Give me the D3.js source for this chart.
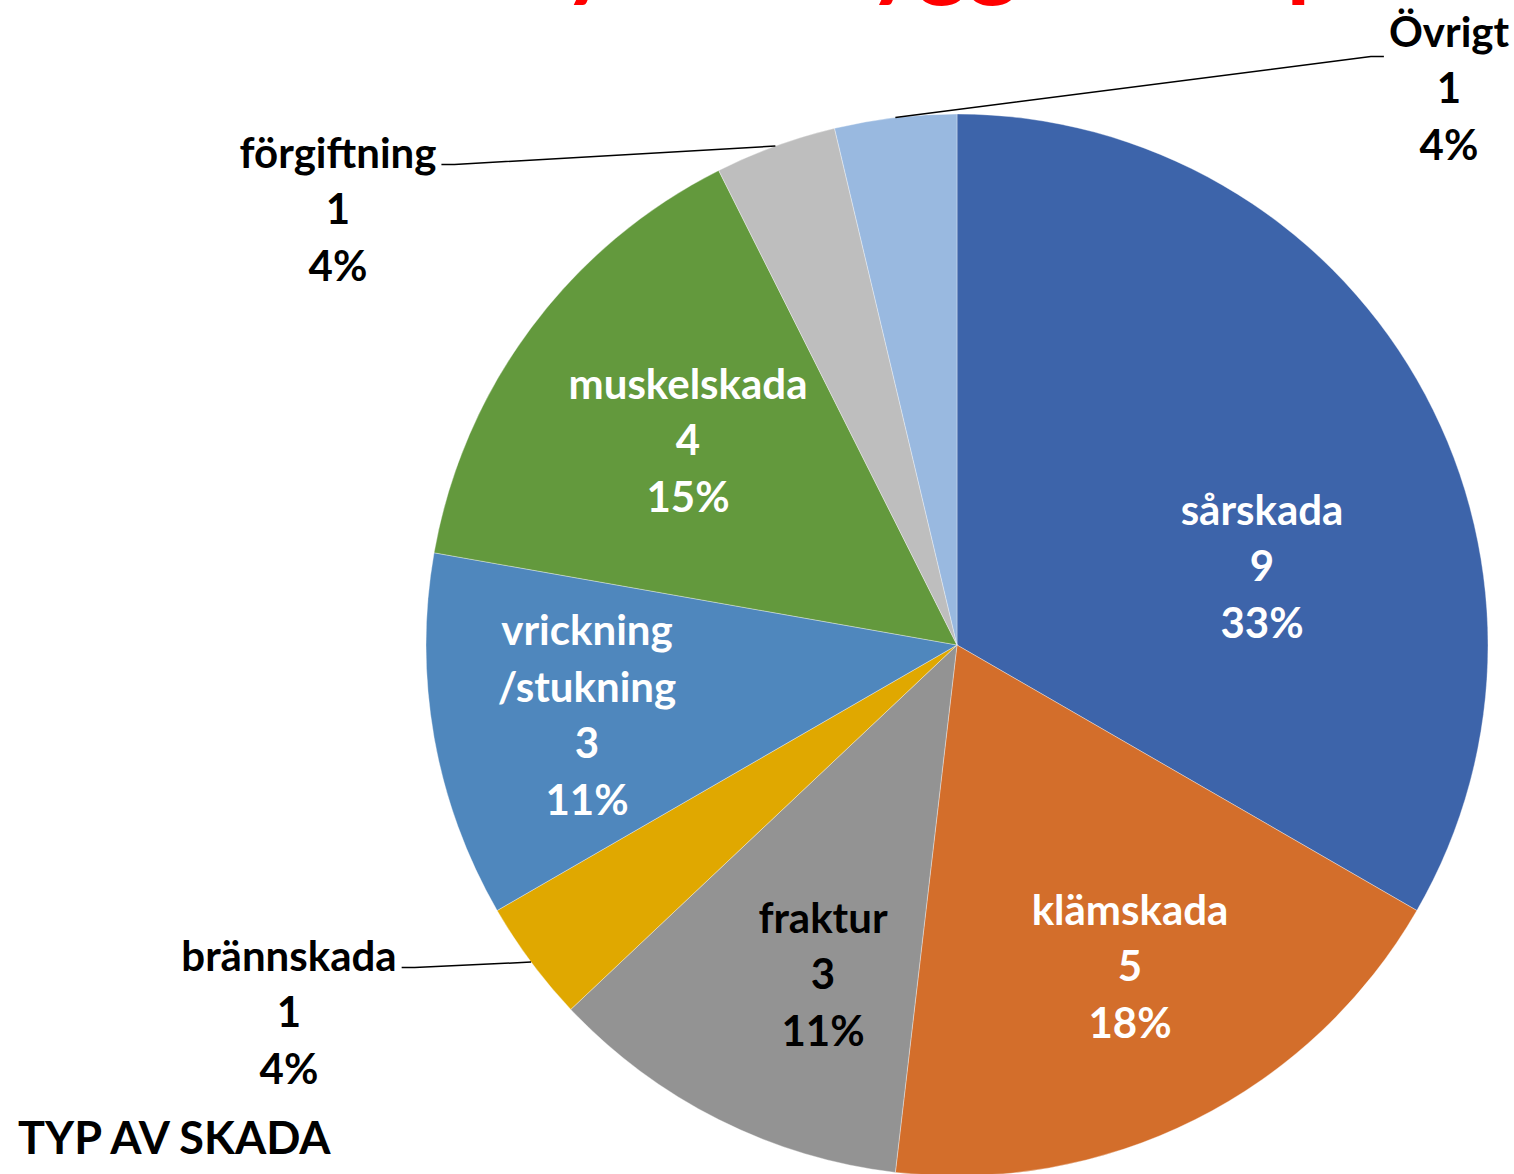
<!DOCTYPE html>
<html>
<head>
<meta charset="utf-8">
<script src="https://cdn.jsdelivr.net/npm/d3@7"></script>
<style>
  body { margin: 0; background: #fff; }
  svg { display: block; }
  text { font-family: Lato, "Open Sans", sans-serif; font-weight: 700; }
</style>
</head>
<body>
<svg id="chart"></svg>
<script>
// data
const categories = ["sårskada", "klämskada", "fraktur", "brännskada", "vrickning/stukning", "muskelskada", "förgiftning", "Övrigt"];
const counts = [9, 5, 3, 1, 3, 4, 1, 1];
const percentLabels = ["33%", "18%", "11%", "4%", "11%", "15%", "4%", "4%"];
const nameLines = [["sårskada"], ["klämskada"], ["fraktur"], ["brännskada"], ["vrickning", "/stukning"], ["muskelskada"], ["förgiftning"], ["Övrigt"]];
const titleText = "Olyckor byggarbetsplats";
const subtitleText = "TYP AV SKADA";

const colors = ["#3d64aa", "#d36e2b", "#939393", "#e0a800", "#4f87bd", "#63993d", "#bebebe", "#99b9e0"];

// svg size
const width = 1514;
const height = 1174;
const cx = 957;
const cy = 645;
const radius = 531;
const lineH = 56.5;

// label block centre, relative to the pie centre (Excel places them by hand)
const labelLayout = {
  "sårskada": { dx: 305, dy: -80, color: "#fff" },
  "klämskada": { dx: 173, dy: 320, color: "#fff" },
  "fraktur": { dx: -134, dy: 328, color: "#000" },
  "brännskada": { dx: -668, dy: 366, color: "#000", leader: { side: "right", dy: 13 } },
  "vrickning/stukning": { dx: -370, dy: 69, color: "#fff" },
  "muskelskada": { dx: -269, dy: -206, color: "#fff" },
  "förgiftning": { dx: -619, dy: -437, color: "#000", leader: { side: "right", dy: 13 } },
  "Övrigt": { dx: 492, dy: -558, color: "#000", leader: { side: "left", dy: 26 } },
};

const svg = d3.select("#chart").attr("width", width).attr("height", height);
svg.append("rect").attr("width", width).attr("height", height).attr("fill", "#fff");

const data = categories.map((c, i) => ({ name: c, value: counts[i], pct: percentLabels[i], lines: nameLines[i] }));

const pie = d3.pie().value(d => d.value).sort(null);
const arc = d3.arc().innerRadius(0).outerRadius(radius);
const arcs = pie(data);

// title (mostly above the crop, only the descenders show)
const title = svg.append("text")
  .attr("y", -11)
  .attr("font-size", 96)
  .attr("font-weight", 400)
  .attr("fill", "#ff0000");
title.append("tspan").attr("x", 462).text(titleText.split(" ")[0]);
title.append("tspan").attr("x", 815).text(titleText.split(" ")[1]);

const g = svg.append("g").attr("transform", `translate(${cx},${cy})`);

g.selectAll("path.slice")
  .data(arcs)
  .join("path")
  .attr("class", "slice")
  .attr("d", arc)
  .attr("fill", (d, i) => colors[i])
  .attr("stroke", "#fff")
  .attr("stroke-opacity", 0.35)
  .attr("stroke-width", 1);

// labels
arcs.forEach(a => {
  const lay = labelLayout[a.data.name];
  const lines = [...a.data.lines, String(a.data.value), a.data.pct];
  const y0 = lay.dy - (lines.length - 1) / 2 * lineH;

  const t = g.append("text")
    .attr("text-anchor", "middle")
    .attr("font-size", 42)
    .attr("fill", lay.color);
  const spans = t.selectAll("tspan")
    .data(lines)
    .join("tspan")
    .attr("x", lay.dx)
    .attr("y", (d, i) => y0 + i * lineH)
    .attr("dominant-baseline", "central")
    .text(d => d);

  if (lay.leader) {
    const w = spans.node().getComputedTextLength();
    const mid = (a.startAngle + a.endAngle) / 2;
    const start = [Math.sin(mid) * radius, -Math.cos(mid) * radius];
    const sign = lay.leader.side === "left" ? -1 : 1;
    const endX = lay.dx + sign * (w / 2 + 5);
    const endY = y0 + lay.leader.dy;
    g.append("path")
      .attr("d", d3.line()([start, [endX + sign * 13, endY], [endX, endY]]))
      .attr("fill", "none")
      .attr("stroke", "#000")
      .attr("stroke-width", 1.5);
  }
});

svg.append("text")
  .attr("x", 18)
  .attr("y", 1137)
  .attr("dominant-baseline", "central")
  .attr("font-size", 45)
  .attr("fill", "#000")
  .text(subtitleText);
</script>
</body>
</html>
